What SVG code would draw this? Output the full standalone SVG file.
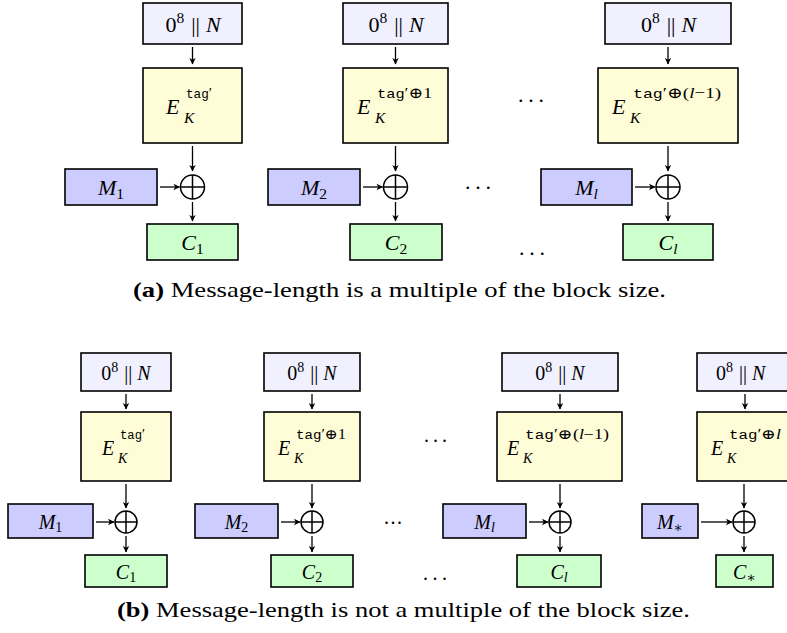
<svg xmlns="http://www.w3.org/2000/svg" width="787" height="633" viewBox="0 0 787 633">
<defs>
<marker id="ah" viewBox="-8 -4 9 8" refX="0" refY="0" markerWidth="9" markerHeight="8" markerUnits="userSpaceOnUse" orient="auto">
<path d="M0.6,0 L-6,-3.2 L-4.3,0 L-6,3.2 Z" fill="#000"/>
</marker>
<g id="xa"><circle cx="0" cy="0" r="12" fill="none" stroke="#000" stroke-width="1.5"/><path d="M-12,0 H12 M0,-12 V12" stroke="#000" stroke-width="1.5"/></g>
<g id="xb"><circle cx="0" cy="0" r="11" fill="none" stroke="#000" stroke-width="1.5"/><path d="M-11,0 H11 M0,-11 V11" stroke="#000" stroke-width="1.5"/></g>
</defs>
<style>
rect{stroke:#000;stroke-width:1.6}
.lav{fill:#f0f0ff}.yel{fill:#fffcd8}.blu{fill:#ccccff}.grn{fill:#ccffcc}
text{fill:#000}
.i{font-style:italic}
.A{font-size:22px}.As{font-size:15.5px}.At{font-size:13.5px}
.B{font-size:20px}.Bs{font-size:14px}.Bt{font-size:12.5px}
.c line{stroke:#000;stroke-width:1.3;fill:none;marker-end:url(#ah)}
.cap{font-size:22px}
</style>
<rect width="787" height="633" fill="#fff" style="stroke:none"/>
<g font-family="Liberation Serif, DejaVu Serif, serif">
<!-- (a) column 1 -->
<g id="a-n1"><rect class="lav" x="143" y="3" width="99" height="41"/>
<text class="A" x="193" y="32" text-anchor="middle">0<tspan class="As" dy="-9">8</tspan><tspan dy="9" dx="7">||</tspan><tspan class="i" dx="6">N</tspan></text></g>
<g id="a-e1"><rect class="yel" x="143" y="68" width="99" height="75"/>
<text class="A i" x="166" y="114">E</text><text class="As" x="186" y="97.5" textLength="26" lengthAdjust="spacingAndGlyphs"><tspan font-family="Liberation Mono, DejaVu Sans Mono, monospace" class="At">tag</tspan>′</text><text class="As i" x="184" y="122.5">K</text></g>
<g id="a-x1"><use href="#xa" x="192.5" y="187"/></g>
<g id="a-m1"><rect class="blu" x="65" y="169" width="92" height="36"/>
<text class="A" x="111" y="195" text-anchor="middle"><tspan class="i">M</tspan><tspan class="As" dy="3.5">1</tspan></text></g>
<g id="a-c1"><rect class="grn" x="147" y="224" width="91" height="36"/>
<text class="A" x="192.5" y="250" text-anchor="middle"><tspan class="i">C</tspan><tspan class="As" dy="3.5">1</tspan></text></g>

<!-- (a) column 2 -->
<g id="a-n2"><rect class="lav" x="343" y="3" width="105" height="41"/>
<text class="A" x="396" y="32" text-anchor="middle">0<tspan class="As" dy="-9">8</tspan><tspan dy="9" dx="7">||</tspan><tspan class="i" dx="6">N</tspan></text></g>
<g id="a-e2"><rect class="yel" x="343" y="68" width="105" height="75"/>
<text class="A i" x="357" y="114">E</text><text class="As" x="377" y="97.5" textLength="55" lengthAdjust="spacingAndGlyphs"><tspan font-family="Liberation Mono, DejaVu Sans Mono, monospace" class="At">tag</tspan>′⊕1</text><text class="As i" x="375" y="122.5">K</text></g>
<g id="a-x2"><use href="#xa" x="395.5" y="187"/></g>
<g id="a-m2"><rect class="blu" x="268" y="169" width="92" height="36"/>
<text class="A" x="314" y="195" text-anchor="middle"><tspan class="i">M</tspan><tspan class="As" dy="3.5">2</tspan></text></g>
<g id="a-c2"><rect class="grn" x="350" y="224" width="92" height="36"/>
<text class="A" x="396" y="250" text-anchor="middle"><tspan class="i">C</tspan><tspan class="As" dy="3.5">2</tspan></text></g>

<!-- (a) column 3 -->
<g id="a-n3"><rect class="lav" x="605" y="3" width="126" height="41"/>
<text class="A" x="668.5" y="32" text-anchor="middle">0<tspan class="As" dy="-9">8</tspan><tspan dy="9" dx="7">||</tspan><tspan class="i" dx="6">N</tspan></text></g>
<g id="a-e3"><rect class="yel" x="598" y="68" width="140" height="75"/>
<text class="A i" x="612" y="114">E</text><text class="As" x="633" y="97.5" textLength="88" lengthAdjust="spacingAndGlyphs"><tspan font-family="Liberation Mono, DejaVu Sans Mono, monospace" class="At">tag</tspan>′⊕(<tspan class="i">l</tspan>−1)</text><text class="As i" x="630" y="122.5">K</text></g>
<g id="a-x3"><use href="#xa" x="668" y="187"/></g>
<g id="a-m3"><rect class="blu" x="541" y="169" width="91" height="36"/>
<text class="A" x="586.5" y="195" text-anchor="middle"><tspan class="i">M</tspan><tspan class="As i" dy="3.5">l</tspan></text></g>
<g id="a-c3"><rect class="grn" x="623" y="224" width="90" height="36"/>
<text class="A" x="668" y="250" text-anchor="middle"><tspan class="i">C</tspan><tspan class="As i" dy="3.5">l</tspan></text></g>

<!-- (a) dots -->
<g id="a-dots">
<text class="A" x="518" y="101.5" textLength="26" lengthAdjust="spacing">...</text>
<text class="A" x="465" y="188.5" textLength="26" lengthAdjust="spacing">...</text>
<text class="A" x="519" y="254.5" textLength="26" lengthAdjust="spacing">...</text>
</g>

<text class="cap" x="133" y="297" textLength="533" lengthAdjust="spacingAndGlyphs"><tspan font-weight="bold">(a)</tspan> Message-length is a multiple of the block size.</text>

<!-- (b) column 1 -->
<g id="b-n1"><rect class="lav" x="81" y="353" width="90" height="38"/>
<text class="B" x="126" y="380" text-anchor="middle">0<tspan class="Bs" dy="-8">8</tspan><tspan dy="8" dx="6">||</tspan><tspan class="i" dx="5">N</tspan></text></g>
<g id="b-e1"><rect class="yel" x="81" y="412" width="90" height="69"/>
<text class="B i" x="102" y="455">E</text><text class="Bs" x="120" y="439" textLength="25" lengthAdjust="spacingAndGlyphs"><tspan font-family="Liberation Mono, DejaVu Sans Mono, monospace" class="Bt">tag</tspan>′</text><text class="Bs i" x="118" y="463">K</text></g>
<g id="b-x1"><use href="#xb" x="126" y="522"/></g>
<g id="b-m1"><rect class="blu" x="8" y="504" width="85" height="34"/>
<text class="B" x="50.5" y="528.5" text-anchor="middle"><tspan class="i">M</tspan><tspan class="Bs" dy="3">1</tspan></text></g>
<g id="b-c1"><rect class="grn" x="85" y="555" width="82" height="32"/>
<text class="B" x="126" y="578.5" text-anchor="middle"><tspan class="i">C</tspan><tspan class="Bs" dy="3">1</tspan></text></g>

<!-- (b) column 2 -->
<g id="b-n2"><rect class="lav" x="264" y="353" width="96" height="38"/>
<text class="B" x="312" y="380" text-anchor="middle">0<tspan class="Bs" dy="-8">8</tspan><tspan dy="8" dx="6">||</tspan><tspan class="i" dx="5">N</tspan></text></g>
<g id="b-e2"><rect class="yel" x="264" y="412" width="96" height="69"/>
<text class="B i" x="278" y="455">E</text><text class="Bs" x="296" y="439" textLength="50" lengthAdjust="spacingAndGlyphs"><tspan font-family="Liberation Mono, DejaVu Sans Mono, monospace" class="Bt">tag</tspan>′⊕1</text><text class="Bs i" x="294" y="463">K</text></g>
<g id="b-x2"><use href="#xb" x="312" y="522"/></g>
<g id="b-m2"><rect class="blu" x="195" y="504" width="83" height="34"/>
<text class="B" x="236.5" y="528.5" text-anchor="middle"><tspan class="i">M</tspan><tspan class="Bs" dy="3">2</tspan></text></g>
<g id="b-c2"><rect class="grn" x="271" y="555" width="82" height="32"/>
<text class="B" x="312" y="578.5" text-anchor="middle"><tspan class="i">C</tspan><tspan class="Bs" dy="3">2</tspan></text></g>

<!-- (b) column 3 -->
<g id="b-n3"><rect class="lav" x="502" y="353" width="116" height="38"/>
<text class="B" x="560" y="380" text-anchor="middle">0<tspan class="Bs" dy="-8">8</tspan><tspan dy="8" dx="6">||</tspan><tspan class="i" dx="5">N</tspan></text></g>
<g id="b-e3"><rect class="yel" x="497" y="412" width="125" height="69"/>
<text class="B i" x="507" y="455">E</text><text class="Bs" x="525" y="439" textLength="84" lengthAdjust="spacingAndGlyphs"><tspan font-family="Liberation Mono, DejaVu Sans Mono, monospace" class="Bt">tag</tspan>′⊕(<tspan class="i">l</tspan>−1)</text><text class="Bs i" x="523" y="463">K</text></g>
<g id="b-x3"><use href="#xb" x="560" y="522"/></g>
<g id="b-m3"><rect class="blu" x="443" y="504" width="83" height="34"/>
<text class="B" x="484.5" y="528.5" text-anchor="middle"><tspan class="i">M</tspan><tspan class="Bs i" dy="3">l</tspan></text></g>
<g id="b-c3"><rect class="grn" x="517" y="555" width="84" height="32"/>
<text class="B" x="559" y="578.5" text-anchor="middle"><tspan class="i">C</tspan><tspan class="Bs i" dy="3">l</tspan></text></g>

<!-- (b) column 4 (clipped at right edge) -->
<g id="b-n4"><rect class="lav" x="697" y="353" width="110" height="38"/>
<text class="B" x="716" y="380">0<tspan class="Bs" dy="-8">8</tspan><tspan dy="8" dx="6">||</tspan><tspan class="i" dx="5">N</tspan></text></g>
<g id="b-e4"><rect class="yel" x="697" y="412" width="110" height="69"/>
<text class="B i" x="711" y="455">E</text><text class="Bs" x="729" y="439" textLength="52" lengthAdjust="spacingAndGlyphs"><tspan font-family="Liberation Mono, DejaVu Sans Mono, monospace" class="Bt">tag</tspan>′⊕<tspan class="i">l</tspan></text><text class="Bs i" x="727" y="463">K</text></g>
<g id="b-x4"><use href="#xb" x="744" y="522"/></g>
<g id="b-m4"><rect class="blu" x="642" y="504" width="56" height="34"/>
<text class="B" x="670" y="528.5" text-anchor="middle"><tspan class="i">M</tspan><tspan class="Bs" dy="3">∗</tspan></text></g>
<g id="b-c4"><rect class="grn" x="716" y="555" width="57" height="32"/>
<text class="B" x="744.5" y="578.5" text-anchor="middle"><tspan class="i">C</tspan><tspan class="Bs" dy="3">∗</tspan></text></g>

<!-- (b) dots -->
<g id="b-dots">
<text class="B" x="384" y="523.5" textLength="18" lengthAdjust="spacing">...</text>
<text class="B" x="424" y="441.5" textLength="23" lengthAdjust="spacing">...</text>
<text class="B" x="423" y="579.5" textLength="24" lengthAdjust="spacing">...</text>
</g>

<text class="cap" x="117" y="617" textLength="573" lengthAdjust="spacingAndGlyphs"><tspan font-weight="bold">(b)</tspan> Message-length is not a multiple of the block size.</text>
</g>
<!-- connectors -->
<g id="connectors" class="c">
<line x1="192.5" y1="47" x2="192.5" y2="64"/>
<line x1="192.5" y1="146" x2="192.5" y2="171"/>
<line x1="192.5" y1="202" x2="192.5" y2="221"/>
<line x1="160" y1="187" x2="179.5" y2="187"/>
<line x1="395.5" y1="47" x2="395.5" y2="64"/>
<line x1="395.5" y1="146" x2="395.5" y2="171"/>
<line x1="395.5" y1="202" x2="395.5" y2="221"/>
<line x1="363" y1="187" x2="382.5" y2="187"/>
<line x1="668" y1="47" x2="668" y2="64"/>
<line x1="668" y1="146" x2="668" y2="171"/>
<line x1="668" y1="202" x2="668" y2="221"/>
<line x1="635" y1="187" x2="655" y2="187"/>

<line x1="126" y1="394" x2="126" y2="409"/>
<line x1="126" y1="484" x2="126" y2="508"/>
<line x1="126" y1="536" x2="126" y2="552"/>
<line x1="96" y1="522" x2="114" y2="522"/>
<line x1="312" y1="394" x2="312" y2="409"/>
<line x1="312" y1="484" x2="312" y2="508"/>
<line x1="312" y1="536" x2="312" y2="552"/>
<line x1="281" y1="522" x2="300" y2="522"/>
<line x1="560" y1="394" x2="560" y2="409"/>
<line x1="560" y1="484" x2="560" y2="508"/>
<line x1="560" y1="536" x2="560" y2="552"/>
<line x1="529" y1="522" x2="548" y2="522"/>
<line x1="745" y1="394" x2="745" y2="409"/>
<line x1="744" y1="484" x2="744" y2="508"/>
<line x1="744" y1="536" x2="744" y2="552"/>
<line x1="701" y1="522" x2="732" y2="522"/>
</g>
</svg>
